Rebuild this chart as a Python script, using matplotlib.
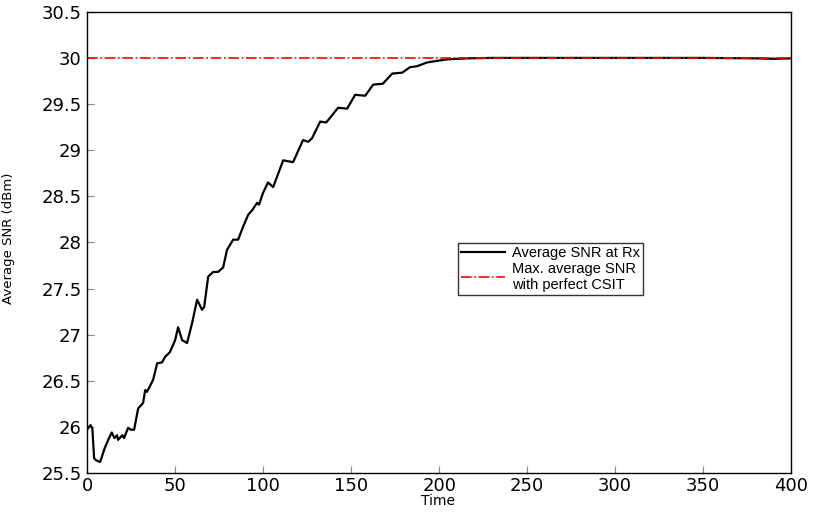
import matplotlib
matplotlib.use("Agg")
import matplotlib.pyplot as plt

# values
time = [0, 1, 2, 3, 4, 5, 7.4, 10, 12, 14, 15.5, 17, 17.6, 20, 21, 23.3, 25, 26.7,
        29, 31.8, 33, 34, 37.5, 39.8, 42.6, 44.3, 47, 50, 51.7, 54, 56.8, 59.7,
        62.5, 65.3, 66.5, 68.8, 71.6, 74.4, 77.3, 79.5, 83, 85.8, 88.6, 91.5,
        93.8, 96.6, 97.7, 100, 102.8, 105.7, 111.4, 117, 122.7, 125.6, 127.8,
        132.4, 135.8, 138, 142.6, 147.7, 152.3, 158, 162.5, 168, 173.3, 179,
        183.5, 187.5, 193, 199.4, 205, 216, 230, 260, 300, 350, 380, 390, 400]
snr = [25.97, 26.0, 26.02, 25.98, 25.66, 25.64, 25.62, 25.77, 25.86, 25.94, 25.88,
       25.91, 25.86, 25.91, 25.88, 25.99, 25.97, 25.97, 26.2, 26.26, 26.40, 26.38,
       26.51, 26.69, 26.70, 26.76, 26.81, 26.94, 27.08, 26.94, 26.91, 27.13,
       27.38, 27.27, 27.30, 27.63, 27.68, 27.68, 27.73, 27.92, 28.03, 28.03,
       28.17, 28.30, 28.35, 28.43, 28.41, 28.54, 28.65, 28.60, 28.89, 28.87,
       29.11, 29.09, 29.13, 29.31, 29.30, 29.35, 29.46, 29.45, 29.60, 29.59,
       29.71, 29.72, 29.83, 29.84, 29.90, 29.91, 29.95, 29.97, 29.985, 29.995,
       30.0, 30.0, 30.0, 30.0, 29.995, 29.99, 29.995]
perfect_csit = 30.0
ytick_labels = ["25.5", "26", "26.5", "27", "27.5", "28", "28.5", "29",
                "29.5", "30", "30.5"]

plt.rcParams["font.family"] = ["DejaVu Sans"]

fig = plt.figure(figsize=(8.14, 5.12), dpi=100)
ax = fig.add_axes([0.107, 0.076, 0.865, 0.901])

ax.plot(time, snr, color="black", linewidth=1.6, label="Average SNR at Rx")
ax.axhline(perfect_csit, color="red", linestyle="-.", linewidth=1.2,
           label="Max. average SNR\nwith perfect CSIT")

ax.set_xlim(0, 400)
ax.set_ylim(25.5, 30.5)
ax.set_xticks(range(0, 401, 50))
ax.set_yticks([25.5 + 0.5 * i for i in range(11)])
ax.set_yticklabels(ytick_labels)
ax.tick_params(direction="in", labelsize=13, length=5, color="#888888")
ax.tick_params(axis="x", pad=3)
ax.tick_params(axis="y", pad=4)
for s in ax.spines.values():
    s.set_linewidth(1.0)

ax.set_xlabel("Time", fontsize=10)
ax.xaxis.set_label_coords(0.4986, -0.045)
ax.set_ylabel("Average SNR (dBm)", fontsize=9.5)
ax.yaxis.set_label_coords(-0.102, 0.51)

leg = ax.legend(loc="upper left", bbox_to_anchor=(0.527, 0.499),
                prop={"family": "Liberation Sans", "size": 10.5},
                frameon=True, fancybox=False, edgecolor="black",
                borderpad=0.2, handlelength=3.0, labelspacing=0.12,
                handletextpad=0.5, borderaxespad=0)
leg.get_frame().set_linewidth(1.0)

fig.savefig("out.png", dpi=100)
